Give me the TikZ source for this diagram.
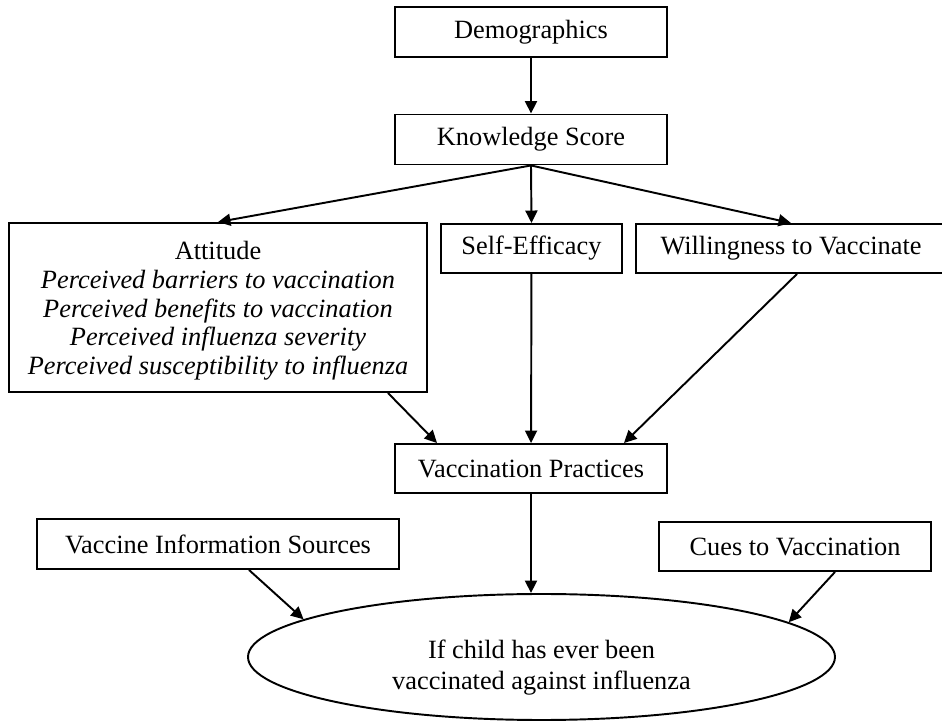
\documentclass[tikz,border=0pt]{standalone}
\usepackage{fontspec}
\setmainfont{Liberation Serif}
\usepackage{tikz}
\usetikzlibrary{
  arrows.meta,
  positioning,
  shapes.geometric,
  calc
}

\begin{document}
\begin{tikzpicture}[
  every node/.style={font=\fontsize{15}{16.4}\selectfont},
  box/.style={rectangle, draw, line width=1.1pt, text centered,
              minimum height=1.0cm, inner sep=2pt},
  oval/.style={ellipse, draw, line width=1.1pt, align=center,
               font=\fontsize{15}{18}\selectfont,
               minimum width=11.74cm, minimum height=2.52cm, inner sep=0pt},
  arr/.style={-{Triangle[length=0.25cm,width=0.24cm]}, line width=1.1pt},
]
\useasboundingbox (0,0) rectangle (18.84,-14.44);

% -- Top: demographics and knowledge -----------
\node[box, minimum width=5.44cm] (demo) at (10.62,-0.64) {Demographics};
\node[box, minimum width=5.44cm] (know) at (10.62,-2.79) {Knowledge Score};

% -- Middle row --------------------------------
\node[box, minimum width=8.36cm, minimum height=3.38cm, align=center] (att)
  at (4.36,-6.15)
  {\rule{0pt}{0.5cm}Attitude\\\textit{Perceived barriers to vaccination}\\
   \textit{Perceived benefits to vaccination}\\
   \textit{Perceived influenza severity}\\
   \textit{Perceived susceptibility to influenza}};
\node[box, minimum width=3.62cm, minimum height=0.98cm] (self) at (10.63,-4.97) {Self-Efficacy};
\node[box, minimum width=6.20cm, minimum height=0.98cm] (will) at (15.82,-4.97) {Willingness to Vaccinate};

% -- Practices ---------------------------------
\node[box, minimum width=5.44cm, minimum height=0.98cm] (prac) at (10.62,-9.37) {Vaccination Practices};

% -- Bottom row --------------------------------
\node[box, minimum width=7.24cm] (info) at (4.36,-10.88) {Vaccine Information Sources};
\node[box, minimum width=5.44cm, minimum height=0.98cm] (cues) at (15.90,-10.93) {Cues to Vaccination};
\node[oval] (ever) at (10.83,-13.14)
  {\rule{0pt}{0.8cm}If child has ever been\\vaccinated against influenza};

% -- Arrows ------------------------------------
\draw[arr] (demo) -- (know);
\draw[arr] (know.south) -- (att.north);
\draw[arr] (know.south) -- (self.north);
\draw[arr] (know.south) -- (will.north);

\draw[arr] ([xshift=-0.8cm]att.south east) -- ([xshift=0.86cm]prac.north west);
\draw[arr] (self) -- (prac);
\draw[arr] ([xshift=0.12cm]will.south) -- ([xshift=-0.88cm]prac.north east);

\draw[arr] (prac.south) -- (prac.south |- ever.north);
\draw[arr] ([xshift=0.62cm]info.south) -- (ever.171.4);
\draw[arr] ([xshift=0.8cm]cues.south) -- (ever.8.3);

\end{tikzpicture}
\end{document}
